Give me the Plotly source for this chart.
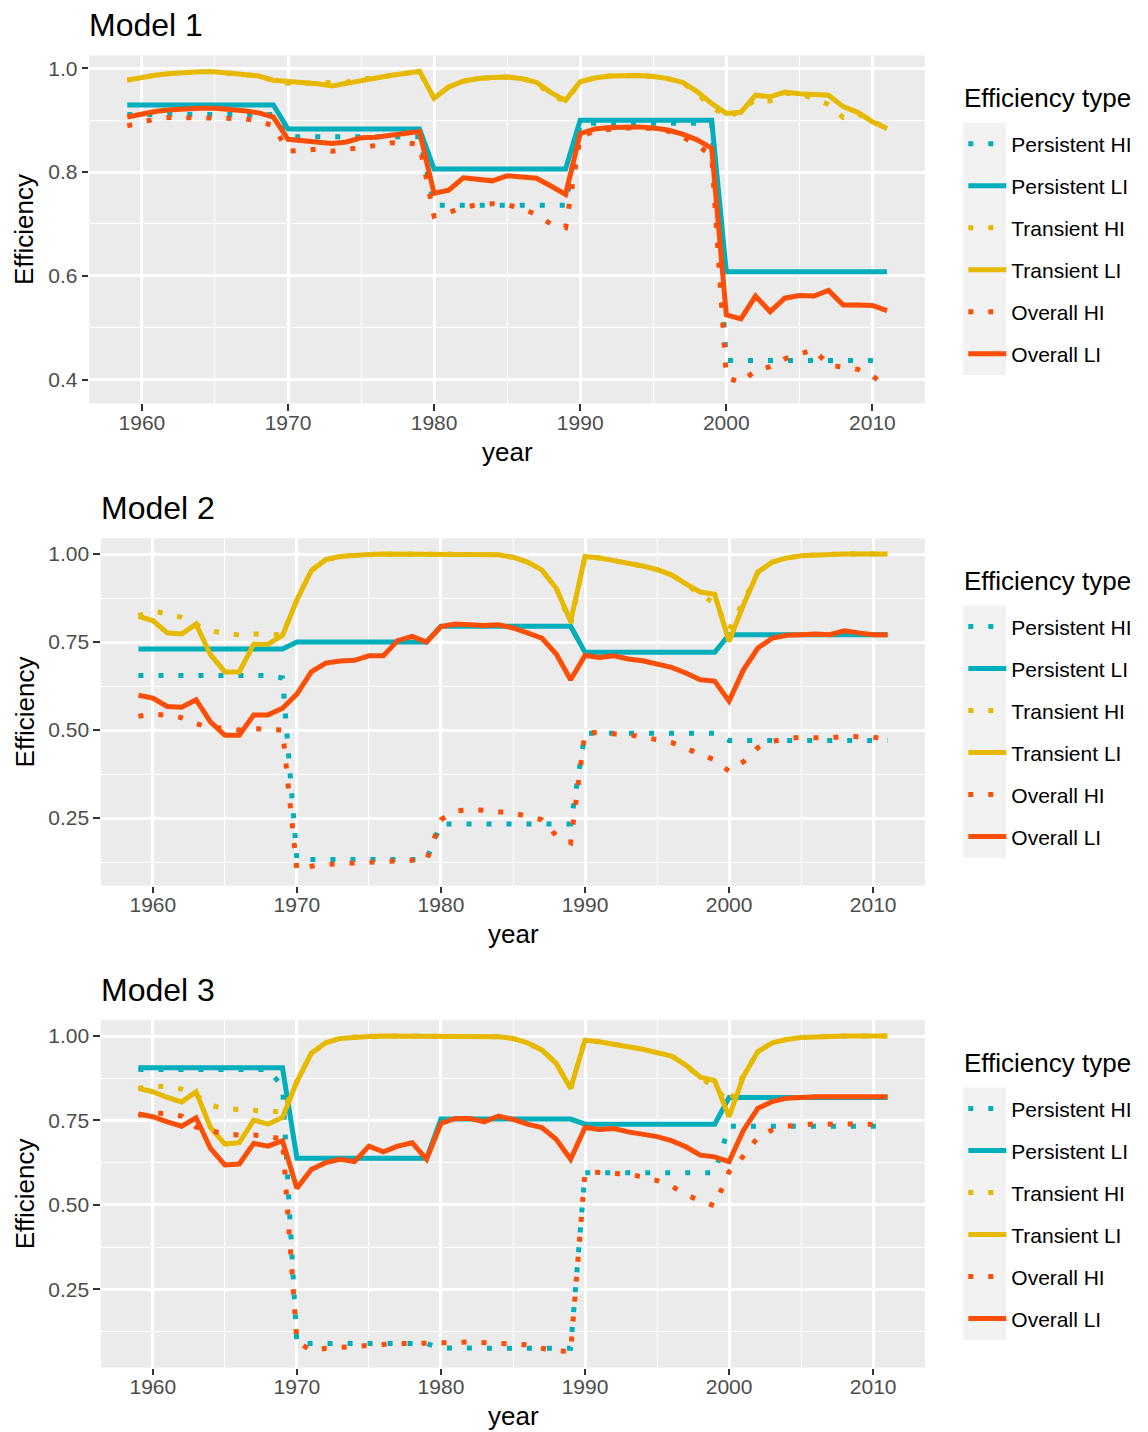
import plotly.graph_objects as go

# ---------------- data ----------------
years = list(range(1959, 2012))
series_names = ["Persistent HI", "Persistent LI", "Transient HI",
                "Transient LI", "Overall HI", "Overall LI"]
panel_titles = ["Model 1", "Model 2", "Model 3"]
x_tick_vals = [1960, 1970, 1980, 1990, 2000, 2010]
y_tick_vals_m1 = [0.4, 0.6, 0.8, 1.0]
y_tick_vals_m23 = [0.25, 0.50, 0.75, 1.00]

# ---- Model 1 ----
m1_persistent_hi = [0.911,
    0.911, 0.911, 0.911, 0.911, 0.911, 0.911, 0.911, 0.911, 0.911, 0.911,
    0.868, 0.868, 0.868, 0.868, 0.868, 0.868, 0.868, 0.868, 0.868, 0.868,
    0.736, 0.736, 0.736, 0.736, 0.736, 0.736, 0.736, 0.736, 0.736, 0.736,
    0.894, 0.894, 0.894, 0.894, 0.894, 0.894, 0.894, 0.894, 0.894, 0.894,
    0.437, 0.437, 0.437, 0.437, 0.437, 0.437, 0.437, 0.437, 0.437, 0.437,
    0.437, 0.437]
m1_persistent_li = [0.929,
    0.929, 0.929, 0.929, 0.929, 0.929, 0.929, 0.929, 0.929, 0.929, 0.929,
    0.883, 0.883, 0.883, 0.883, 0.883, 0.883, 0.883, 0.883, 0.883, 0.883,
    0.806, 0.806, 0.806, 0.806, 0.806, 0.806, 0.806, 0.806, 0.806, 0.806,
    0.900, 0.900, 0.900, 0.900, 0.900, 0.900, 0.900, 0.900, 0.900, 0.900,
    0.608, 0.608, 0.608, 0.608, 0.608, 0.608, 0.608, 0.608, 0.608, 0.608,
    0.608, 0.608]
m1_transient_hi = [0.977,
    0.983, 0.987, 0.990, 0.992, 0.993, 0.993, 0.991, 0.989, 0.985, 0.976,
    0.971, 0.971, 0.972, 0.973, 0.973, 0.978, 0.982, 0.986, 0.990, 0.994,
    0.942, 0.964, 0.975, 0.980, 0.982, 0.983, 0.980, 0.973, 0.948, 0.936,
    0.974, 0.981, 0.985, 0.986, 0.986, 0.984, 0.980, 0.973, 0.950, 0.925,
    0.905, 0.918, 0.940, 0.937, 0.952, 0.950, 0.942, 0.930, 0.905, 0.912,
    0.897, 0.884]
m1_transient_li = [0.977,
    0.983, 0.987, 0.990, 0.992, 0.993, 0.993, 0.991, 0.989, 0.985, 0.977,
    0.975, 0.974, 0.970, 0.966, 0.971, 0.978, 0.982, 0.986, 0.990, 0.994,
    0.942, 0.964, 0.975, 0.980, 0.982, 0.983, 0.980, 0.973, 0.953, 0.938,
    0.974, 0.981, 0.985, 0.986, 0.986, 0.984, 0.980, 0.973, 0.955, 0.932,
    0.913, 0.915, 0.948, 0.945, 0.954, 0.951, 0.950, 0.948, 0.926, 0.915,
    0.897, 0.884]
m1_overall_hi = [0.889,
    0.897, 0.903, 0.905, 0.905, 0.905, 0.905, 0.905, 0.903, 0.898, 0.889,
    0.840, 0.843, 0.844, 0.840, 0.843, 0.848, 0.851, 0.856, 0.857, 0.853,
    0.715, 0.722, 0.732, 0.737, 0.739, 0.737, 0.730, 0.718, 0.700, 0.693,
    0.868, 0.879, 0.883, 0.885, 0.885, 0.884, 0.879, 0.868, 0.852, 0.832,
    0.405, 0.394, 0.418, 0.425, 0.440, 0.450, 0.458, 0.428, 0.423, 0.420,
    0.408, 0.385]
m1_overall_li = [0.906,
    0.912, 0.917, 0.920, 0.922, 0.923, 0.923, 0.921, 0.918, 0.914, 0.906,
    0.863, 0.861, 0.858, 0.855, 0.858, 0.866, 0.867, 0.871, 0.875, 0.878,
    0.759, 0.765, 0.789, 0.786, 0.783, 0.793, 0.791, 0.788, 0.773, 0.757,
    0.874, 0.883, 0.886, 0.887, 0.887, 0.885, 0.881, 0.873, 0.862, 0.846,
    0.525, 0.517, 0.561, 0.531, 0.557, 0.562, 0.561, 0.572, 0.544, 0.544,
    0.543, 0.533]

# ---- Model 2 ----
m2_persistent_hi = [0.655,
    0.655, 0.655, 0.655, 0.655, 0.655, 0.655, 0.655, 0.655, 0.655, 0.648,
    0.132, 0.132, 0.132, 0.132, 0.132, 0.132, 0.132, 0.132, 0.132, 0.132,
    0.233, 0.233, 0.233, 0.233, 0.233, 0.233, 0.233, 0.233, 0.233, 0.233,
    0.491, 0.491, 0.491, 0.491, 0.491, 0.491, 0.491, 0.491, 0.491, 0.491,
    0.470, 0.470, 0.470, 0.470, 0.470, 0.470, 0.470, 0.470, 0.470, 0.470,
    0.470, 0.470]
m2_persistent_li = [0.730,
    0.730, 0.730, 0.730, 0.730, 0.730, 0.730, 0.730, 0.730, 0.730, 0.730,
    0.750, 0.750, 0.750, 0.750, 0.750, 0.750, 0.750, 0.750, 0.750, 0.750,
    0.795, 0.795, 0.795, 0.795, 0.795, 0.795, 0.795, 0.795, 0.795, 0.795,
    0.721, 0.721, 0.721, 0.721, 0.721, 0.721, 0.721, 0.721, 0.721, 0.721,
    0.771, 0.771, 0.771, 0.771, 0.771, 0.771, 0.771, 0.771, 0.771, 0.771,
    0.771, 0.771]
m2_transient_hi = [0.825,
    0.838, 0.830, 0.820, 0.800, 0.782, 0.775, 0.770, 0.773, 0.772, 0.770,
    0.870, 0.953, 0.984, 0.993, 0.997, 0.999, 1.000, 1.000, 1.000, 1.000,
    1.000, 1.000, 1.000, 0.999, 0.998, 0.991, 0.977, 0.955, 0.903, 0.800,
    0.993, 0.989, 0.982, 0.974, 0.966, 0.956, 0.941, 0.915, 0.885, 0.860,
    0.785, 0.865, 0.949, 0.977, 0.989, 0.995, 0.998, 0.999, 1.000, 1.000,
    1.000, 1.000]
m2_transient_li = [0.823,
    0.811, 0.776, 0.773, 0.801, 0.714, 0.665, 0.665, 0.744, 0.744, 0.769,
    0.870, 0.953, 0.984, 0.993, 0.997, 0.999, 1.000, 1.000, 1.000, 1.000,
    1.000, 1.000, 1.000, 0.999, 0.998, 0.991, 0.977, 0.955, 0.903, 0.809,
    0.993, 0.989, 0.982, 0.974, 0.966, 0.956, 0.941, 0.915, 0.892, 0.886,
    0.752, 0.856, 0.949, 0.977, 0.989, 0.995, 0.998, 0.999, 1.000, 1.000,
    1.000, 1.000]
m2_overall_hi = [0.539,
    0.545, 0.542, 0.535, 0.518, 0.508, 0.505, 0.500, 0.504, 0.502, 0.500,
    0.103, 0.113, 0.118, 0.120, 0.123, 0.126, 0.129, 0.130, 0.130, 0.130,
    0.245, 0.270, 0.274, 0.272, 0.268, 0.264, 0.255, 0.245, 0.200, 0.180,
    0.494, 0.492, 0.490, 0.487, 0.480, 0.474, 0.465, 0.448, 0.430, 0.415,
    0.383, 0.410, 0.450, 0.468, 0.475, 0.480, 0.478, 0.478, 0.482, 0.482,
    0.480, 0.472]
m2_overall_li = [0.599,
    0.591, 0.567, 0.565, 0.586, 0.523, 0.485, 0.485, 0.543, 0.543, 0.562,
    0.602, 0.665, 0.690, 0.696, 0.698, 0.711, 0.711, 0.754, 0.766, 0.750,
    0.794, 0.801, 0.799, 0.797, 0.799, 0.790, 0.776, 0.761, 0.716, 0.643,
    0.712, 0.706, 0.711, 0.702, 0.697, 0.688, 0.678, 0.662, 0.643, 0.639,
    0.582, 0.671, 0.733, 0.761, 0.769, 0.771, 0.773, 0.771, 0.782, 0.776,
    0.771, 0.771]

# ---- Model 3 ----
m3_persistent_hi = [0.901,
    0.901, 0.901, 0.901, 0.901, 0.901, 0.901, 0.901, 0.901, 0.901, 0.850,
    0.089, 0.089, 0.089, 0.089, 0.089, 0.089, 0.089, 0.089, 0.089, 0.089,
    0.076, 0.075, 0.075, 0.075, 0.075, 0.075, 0.075, 0.075, 0.075, 0.075,
    0.595, 0.595, 0.595, 0.595, 0.595, 0.595, 0.595, 0.595, 0.595, 0.595,
    0.733, 0.733, 0.733, 0.733, 0.733, 0.733, 0.733, 0.733, 0.733, 0.733,
    0.733, 0.733]
m3_persistent_li = [0.906,
    0.906, 0.906, 0.906, 0.906, 0.906, 0.906, 0.906, 0.906, 0.906, 0.906,
    0.638, 0.638, 0.638, 0.638, 0.638, 0.638, 0.638, 0.638, 0.638, 0.638,
    0.754, 0.754, 0.754, 0.754, 0.754, 0.754, 0.754, 0.754, 0.754, 0.754,
    0.739, 0.739, 0.739, 0.739, 0.739, 0.739, 0.739, 0.739, 0.739, 0.739,
    0.818, 0.818, 0.818, 0.818, 0.818, 0.818, 0.818, 0.818, 0.818, 0.818,
    0.818, 0.818]
m3_transient_hi = [0.845,
    0.852, 0.850, 0.843, 0.825, 0.795, 0.785, 0.781, 0.780, 0.777, 0.775,
    0.865, 0.949, 0.980, 0.993, 0.997, 0.999, 1.000, 1.000, 1.000, 1.000,
    1.000, 1.000, 1.000, 0.999, 0.998, 0.993, 0.980, 0.959, 0.919, 0.845,
    0.988, 0.983, 0.976, 0.968, 0.961, 0.951, 0.941, 0.914, 0.875, 0.850,
    0.800, 0.885, 0.954, 0.980, 0.990, 0.996, 0.998, 0.999, 1.000, 1.000,
    1.000, 1.000]
m3_transient_li = [0.845,
    0.835, 0.818, 0.805, 0.835, 0.729, 0.680, 0.684, 0.751, 0.739, 0.759,
    0.865, 0.949, 0.980, 0.993, 0.997, 0.999, 1.000, 1.000, 1.000, 1.000,
    1.000, 1.000, 1.000, 0.999, 0.998, 0.993, 0.980, 0.959, 0.919, 0.845,
    0.988, 0.983, 0.976, 0.968, 0.961, 0.951, 0.941, 0.914, 0.878, 0.868,
    0.761, 0.881, 0.954, 0.980, 0.990, 0.996, 0.998, 0.999, 1.000, 1.000,
    1.000, 1.000]
m3_overall_hi = [0.765,
    0.772, 0.770, 0.763, 0.730, 0.720, 0.710, 0.707, 0.707, 0.702, 0.695,
    0.095, 0.068, 0.075, 0.078, 0.080, 0.083, 0.086, 0.089, 0.089, 0.089,
    0.090, 0.092, 0.094, 0.092, 0.090, 0.088, 0.085, 0.075, 0.068, 0.065,
    0.597, 0.596, 0.594, 0.590, 0.583, 0.572, 0.556, 0.530, 0.512, 0.497,
    0.598, 0.645, 0.700, 0.722, 0.733, 0.737, 0.740, 0.739, 0.741, 0.740,
    0.738, 0.735]
m3_overall_li = [0.769,
    0.761, 0.746, 0.733, 0.758, 0.667, 0.618, 0.621, 0.682, 0.674, 0.690,
    0.549, 0.605, 0.625, 0.635, 0.628, 0.674, 0.657, 0.674, 0.684, 0.635,
    0.741, 0.756, 0.756, 0.746, 0.763, 0.753, 0.739, 0.729, 0.694, 0.635,
    0.729, 0.723, 0.726, 0.716, 0.709, 0.702, 0.690, 0.672, 0.647, 0.642,
    0.628, 0.721, 0.786, 0.806, 0.816, 0.819, 0.820, 0.820, 0.820, 0.820,
    0.820, 0.820]

model_data = [
    [m1_persistent_hi, m1_persistent_li, m1_transient_hi, m1_transient_li, m1_overall_hi, m1_overall_li],
    [m2_persistent_hi, m2_persistent_li, m2_transient_hi, m2_transient_li, m2_overall_hi, m2_overall_li],
    [m3_persistent_hi, m3_persistent_li, m3_transient_hi, m3_transient_li, m3_overall_hi, m3_overall_li],
]

# ---------------- styling / geometry ----------------
W, H = 1148, 1432
FONT = "Liberation Sans, Arial, Helvetica, sans-serif"
series_colors = ["#00AFBB", "#00AFBB", "#E7B800", "#E7B800", "#FC4E07", "#FC4E07"]
series_dash = ["5px,15px", "solid", "5px,15px", "solid", "5px,15px", "solid"]
LINE_W = 5

# plot-area pixel boxes (left, right, top, bottom) and y ranges
panels = [
    dict(l=89.3, r=925, t=55.5, b=403.3, yr=[0.3545, 1.0245], ticks=y_tick_vals_m1, fmt=".1f", minor=0.1, m0=0.3),
    dict(l=101.0, r=925, t=538.2, b=885.6, yr=[0.058, 1.045], ticks=y_tick_vals_m23, fmt=".2f", minor=0.125, m0=0.0),
    dict(l=101.0, r=925, t=1020.2, b=1367.5, yr=[0.018, 1.047], ticks=y_tick_vals_m23, fmt=".2f", minor=0.125, m0=0.0),
]
legend_offsets = [0.0, 482.7, 964.7]

fig = go.Figure()
layout = dict(
    width=W, height=H, autosize=False,
    margin=dict(l=0, r=0, t=0, b=0, pad=0),
    paper_bgcolor="white", plot_bgcolor="#EBEBEB",
    font=dict(family=FONT, color="black"),
    showlegend=True,
    annotations=[], shapes=[],
)

for p, (pan, data) in enumerate(zip(panels, model_data)):
    sfx = "" if p == 0 else str(p + 1)
    leg = "legend" if p == 0 else "legend" + str(p + 1)
    for i, (name, vals) in enumerate(zip(series_names, data)):
        fig.add_trace(go.Scatter(
            x=years, y=vals, mode="lines", name=name,
            line=dict(color=series_colors[i], width=LINE_W, dash=series_dash[i]),
            xaxis="x" + sfx, yaxis="y" + sfx,
            legend=leg, legendgroup=f"p{p}_{i}", showlegend=True,
        ))
    layout["xaxis" + sfx] = dict(
        domain=[pan["l"] / W, pan["r"] / W], anchor="y" + sfx,
        range=[1956.4, 2013.6], tickvals=x_tick_vals, ticktext=[str(v) for v in x_tick_vals],
        ticks="outside", ticklen=6.6, tickwidth=1.6, tickcolor="#333333",
        tickfont=dict(size=21, color="#4D4D4D", family=FONT),
        ticklabelstandoff=-6,
        showgrid=True, gridcolor="white", gridwidth=2.8,
        minor=dict(dtick=5, tick0=1955, showgrid=True, gridcolor="white", gridwidth=1.4, ticks=""),
        showline=False, zeroline=False, automargin=False, fixedrange=True,
    )
    layout["yaxis" + sfx] = dict(
        domain=[1 - pan["b"] / H, 1 - pan["t"] / H], anchor="x" + sfx,
        range=pan["yr"], tickvals=pan["ticks"], tickformat=pan["fmt"],
        ticks="outside", ticklen=6.6, tickwidth=1.6, tickcolor="#333333",
        tickfont=dict(size=21, color="#4D4D4D", family=FONT),
        showgrid=True, gridcolor="white", gridwidth=2.8,
        minor=dict(dtick=pan["minor"], tick0=pan["m0"], showgrid=True, gridcolor="white", gridwidth=1.4, ticks=""),
        showline=False, zeroline=False, automargin=False, fixedrange=True,
    )
    off = legend_offsets[p]
    layout[leg] = dict(
        x=963.3 / W, xanchor="left", y=1 - (123.55 + off) / H, yanchor="top",
        bgcolor="rgba(0,0,0,0)", borderwidth=0,
        font=dict(size=21, family=FONT, color="black"),
        tracegroupgap=11.7, itemwidth=38,
    )
    # legend key background
    layout["shapes"].append(dict(
        type="rect", xref="paper", yref="paper", layer="below",
        x0=963.3 / W, x1=1006 / W, y0=1 - (375 + off) / H, y1=1 - (122.7 + off) / H,
        fillcolor="#F2F2F2", line=dict(width=0),
    ))
    # legend title
    layout["annotations"].append(dict(
        text="Efficiency type", xref="paper", yref="paper",
        x=963 / W, y=1 - (98.3 + off) / H, xanchor="left", yanchor="middle",
        showarrow=False, borderpad=0, font=dict(size=26, family=FONT, color="black"),
    ))
    # panel title
    layout["annotations"].append(dict(
        text=panel_titles[p], xref="paper", yref="paper",
        x=(pan["l"] - 1) / W, y=1 - (pan["t"] - 30.5) / H, xanchor="left", yanchor="middle",
        showarrow=False, borderpad=0, font=dict(size=32, family=FONT, color="black"),
    ))
    # axis titles
    layout["annotations"].append(dict(
        text="year", xref="paper", yref="paper",
        x=(pan["l"] + pan["r"]) / 2 / W, y=1 - (pan["b"] + 48.5) / H,
        xanchor="center", yanchor="middle",
        showarrow=False, borderpad=0, font=dict(size=26, family=FONT, color="black"),
    ))
    layout["annotations"].append(dict(
        text="Efficiency", xref="paper", yref="paper", textangle=-90,
        x=24.5 / W, y=1 - (pan["t"] + pan["b"]) / 2 / H,
        xanchor="center", yanchor="middle",
        showarrow=False, borderpad=0, font=dict(size=26, family=FONT, color="black"),
    ))

fig.update_layout(**layout)
fig.write_html("out.html", config={"displayModeBar": False})
